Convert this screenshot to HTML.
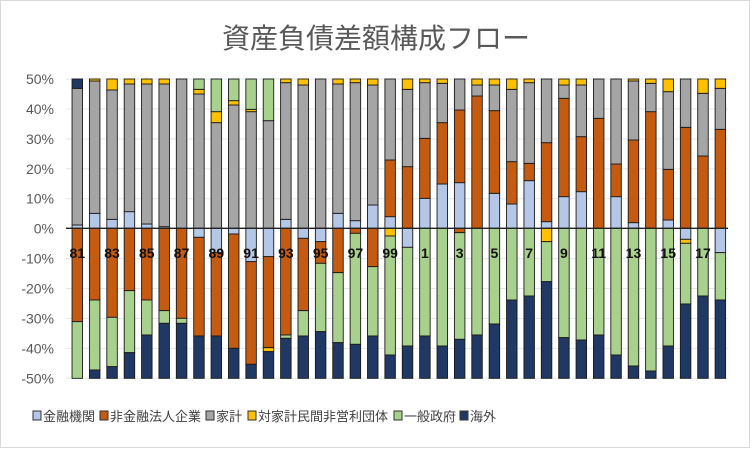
<!DOCTYPE html>
<html><head><meta charset="utf-8"><style>
html,body{margin:0;padding:0;background:#fff;}
svg{display:block;}
text{font-family:"Liberation Sans","Noto Sans CJK JP",sans-serif;}
</style></head><body>
<svg id="c" width="752" height="450" viewBox="0 0 752 450" xmlns="http://www.w3.org/2000/svg">
<rect x="0.5" y="0.5" width="749" height="447" fill="#fff" stroke="#d9d9d9"/>
<text x="376" y="48" text-anchor="middle" font-size="28" fill="#595959">資産負債差額構成フロー</text>
<g id="grid"></g>
<g id="bars"></g>
<line x1="66" y1="228.3" x2="728" y2="228.3" stroke="#222" stroke-width="1.3"/>
<g id="lbl"></g>
<g font-size="13" fill="#404040">
<rect x="33" y="411" width="8" height="9" fill="#b4c7e7" stroke="#333" stroke-width="1"/><text x="43" y="421">金融機関</text>
<rect x="100" y="411" width="8" height="9" fill="#c55a11" stroke="#333" stroke-width="1"/><text x="110" y="421">非金融法人企業</text>
<rect x="206" y="411" width="8" height="9" fill="#a5a5a5" stroke="#333" stroke-width="1"/><text x="216" y="421">家計</text>
<rect x="248" y="411" width="8" height="9" fill="#ffc000" stroke="#333" stroke-width="1"/><text x="258" y="421">対家計民間非営利団体</text>
<rect x="394" y="411" width="8" height="9" fill="#a9d18e" stroke="#333" stroke-width="1"/><text x="404" y="421">一般政府</text>
<rect x="460" y="411" width="8" height="9" fill="#203864" stroke="#333" stroke-width="1"/><text x="470" y="421">海外</text>
</g>
</svg>
<script>
var C={b:"#b4c7e7",o:"#c55a11",g:"#a5a5a5",y:"#ffc000",e:"#a9d18e",n:"#203864"};
var D=[
["b465 g55 n27","o755 e925"],
["b430 g33 y27","o690 e900 n925"],
["b448 g60 y27","o742 e890 n925"],
["b425 g42 y27","o662 e848 n925"],
["b462 g42 y27","o690 e795 n925"],
["b470 g42 y27","o722 e760 n925"],
["g27","o745 e760 n925"],
["g72 y58 e27","b502 o798 n925"],
["g158 y125 e27","b548 o798 n925"],
["g105 y92 e27","b492 o835 n925"],
["g125 y118 e27","b575 o883 n925"],
["g152 e27","b560 o833 y845 n925"],
["b448 g38 y27","o795 e805 n925"],
["g45 y27","b505 o722 e798 n925"],
["g27","b515 o580 e785 n925"],
["b430 g42 y27","o608 e818 n925"],
["b452 g38 y27","o490 e823 n925"],
["b405 g45 y27","o590 e798 n925"],
["b440 o270 g27","y498 e855 n925"],
["o290 g58 y27","b532 e828 n925"],
["b385 o205 g38 y27","e798 n925"],
["b342 o158 g40 y27","e828 n925"],
["b338 o120 g27","o488 e808 n925"],
["o78 g45 y27","e795 n925"],
["b370 o122 g45 y27","e762 n925"],
["b402 o275 g58 y27","e690 n925"],
["b332 o280 g38 y27","e678 n925"],
["b455 o218 g27","y515 e635 n925"],
["b380 o85 g45 y27","e803 n925"],
["b365 o200 g45 y27","e810 n925"],
["o145 g27","e795 n925"],
["b380 o282 g27","e855 n925"],
["b458 o210 g33 y27","e888 n925"],
["o125 g40 y27","e903 n925"],
["b450 o298 g65 y27","e828 n925"],
["o172 g27","b508 y520 e702 n925"],
["o258 g70 y27","e678 n925"],
["o178 g55 y27","b548 e690 n925"]];
var NS="http://www.w3.org/2000/svg";
function el(t,a,p,txt){var e=document.createElementNS(NS,t);for(var k in a)e.setAttribute(k,a[k]);if(txt)e.textContent=txt;p.appendChild(e);return e;}
var Y=function(z){return 70+z/3;};
var grid=document.getElementById("grid"),bars=document.getElementById("bars"),lbl=document.getElementById("lbl");
for(var i=0;i<=10;i++){var v=50-i*10;var y=79+i*29.93;
 if(v!==0)el("line",{x1:66,x2:728,y1:y,y2:y,stroke:"#e6e6e6","stroke-width":1},grid);
 el("text",{x:54,y:y+5,"text-anchor":"end","font-size":14,fill:"#595959"},grid,v+"%");}
D.forEach(function(d,i){var cx=77.3+i*17.38,w=10.5,x=cx-w/2;
 [0,1].forEach(function(s){var prev=475;d[s].split(" ").forEach(function(t){var c=t[0],z=+t.slice(1);
  var y1=Y(Math.min(prev,z)),y2=Y(Math.max(prev,z));
  el("rect",{x:x,y:y1,width:w,height:Math.max(0.5,y2-y1),fill:C[c],stroke:"#1a1a1a","stroke-width":0.9},bars);prev=z;});});
 var yr=1981+i;if(yr%2===1){el("text",{x:cx,y:258,"text-anchor":"middle","font-size":14,"font-weight":"bold",fill:"#111"},lbl,String(yr%100).replace(/^0/,""));}
});
</script>
</body></html>
